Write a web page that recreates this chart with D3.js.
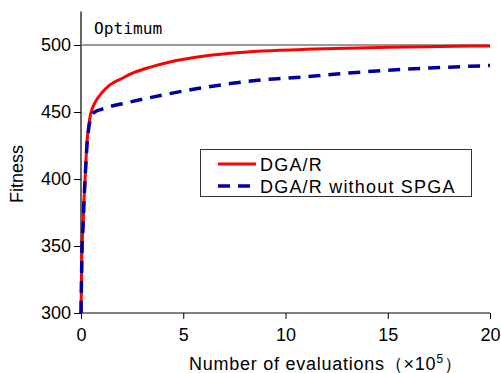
<!DOCTYPE html>
<html><head><meta charset="utf-8">
<script src="https://cdn.jsdelivr.net/npm/d3@7"></script>
<style>body{margin:0;background:#fff}svg{display:block}</style>
</head><body><svg id="c" width="501" height="373"></svg>
<script>
const redX = [0, 0.03, 0.05, 0.1, 0.15, 0.2, 0.29, 0.38, 0.44, 0.5, 0.65, 0.8, 1.0, 1.4, 2.0, 2.6, 3.4, 4.4, 5.7, 7.3, 8.9, 11, 13, 15, 17.5, 20];
const redY = [300, 330, 349, 365, 385, 400, 427, 440, 446, 450, 456, 460, 464, 470, 475, 479.5, 483.5, 487.5, 491, 493.8, 495.5, 496.8, 497.6, 498.3, 498.9, 499.3];
const blueX = [0, 0.03, 0.05, 0.1, 0.15, 0.2, 0.29, 0.38, 0.45, 0.55, 0.73, 1.0, 1.4, 2.2, 3.0, 4.0, 5.7, 7.3, 8.9, 10.9, 12.5, 14.8, 17.3, 20];
const blueY = [300, 330, 349, 365, 385, 400, 425, 438, 444, 448, 450.5, 452, 454, 456.8, 459.5, 462.7, 467.5, 471.2, 474, 476.2, 478.3, 481, 483, 484.7];
const seriesNames = ["DGA/R", "DGA/R without SPGA"];
const xTicks = [0, 5, 10, 15, 20];
const yTicks = [300, 350, 400, 450, 500];
const optimum = 500;

const svg = d3.select("#c");
const x = d3.scaleLinear().domain([0, 20]).range([81, 490]);
const y = d3.scaleLinear().domain([300, 525]).range([313, 11.5]);
const font = "'Liberation Sans', Arial, sans-serif";

const gx = svg.append("g").attr("transform", `translate(0,${y(300)})`);
gx.call(d3.axisBottom(x).tickValues(d3.range(0, 20.01, 2.5)).tickSize(4).tickFormat(""));
gx.call(d3.axisBottom(x).tickValues(xTicks).tickSize(6).tickPadding(9).tickFormat(d3.format("d")));
const gy = svg.append("g").attr("transform", `translate(${x(0)},0)`);
gy.call(d3.axisLeft(y).tickValues(d3.range(300, 525, 25)).tickSize(4).tickFormat(""));
gy.call(d3.axisLeft(y).tickValues(yTicks).tickSize(7).tickPadding(3).tickFormat(d3.format("d")));
svg.selectAll(".domain").attr("stroke", "#000").attr("stroke-width", 1.2);
svg.selectAll(".tick line").attr("stroke", "#000");
svg.selectAll(".tick text").attr("font-family", font).attr("font-size", 18).attr("fill", "#000");
gx.selectAll(".domain").attr("d", `M${x(0)},0H${x(20)}`);
gy.selectAll(".domain").attr("d", `M0,${y(300)}V${y(525)}`);

svg.append("line").attr("x1", x(0)).attr("x2", x(20)).attr("y1", y(optimum)).attr("y2", y(optimum))
  .attr("stroke", "#777").attr("stroke-width", 1.3);
svg.append("text").attr("x", 94).attr("y", 34).text("Optimum")
  .attr("font-family", "'DejaVu Sans Mono', monospace").attr("font-size", 16.2).attr("fill", "#000");

const line = d3.line().x(d => x(d[0])).y(d => y(d[1])).curve(d3.curveMonotoneX);
const blueData = blueX.map((v, i) => [v, blueY[i]]);
const redData = redX.map((v, i) => [v, redY[i]]);
svg.append("path").datum(redData).attr("d", line).attr("fill", "none")
  .attr("stroke", "#ff0000").attr("stroke-width", 3);
svg.append("path").datum(blueData).attr("d", line).attr("fill", "none")
  .attr("stroke", "#0000a0").attr("stroke-width", 3.5).attr("stroke-dasharray", "12,8");

const lg = svg.append("g");
lg.append("rect").attr("x", 200.5).attr("y", 149.5).attr("width", 271).attr("height", 47)
  .attr("fill", "#fff").attr("stroke", "#333").attr("stroke-width", 1);
[["#ff0000", null, 3], ["#0000a0", "12,8", 3.5]].forEach((s, i) => {
  const yy = 164 + i * 22;
  lg.append("line").attr("x1", 218).attr("x2", 256).attr("y1", yy).attr("y2", yy)
    .attr("stroke", s[0]).attr("stroke-width", s[2]).attr("stroke-dasharray", s[1]);
  lg.append("text").attr("x", 260).attr("y", yy + 6.5).text(seriesNames[i])
    .attr("font-family", font).attr("font-size", 18).attr("letter-spacing", 1.2).attr("fill", "#000");
});

svg.append("text").attr("x", 189).attr("y", 370).attr("font-family", font).attr("font-size", 18)
  .attr("fill", "#000").attr("letter-spacing", 0.75)
  .html('Number of evaluations（×10<tspan dy="-7" font-size="12">5</tspan><tspan dy="7">）</tspan>');
svg.append("text").attr("transform", "translate(23,174) rotate(-90)").attr("text-anchor", "middle")
  .attr("font-family", font).attr("font-size", 18).attr("fill", "#000").text("Fitness");
</script></body></html>
